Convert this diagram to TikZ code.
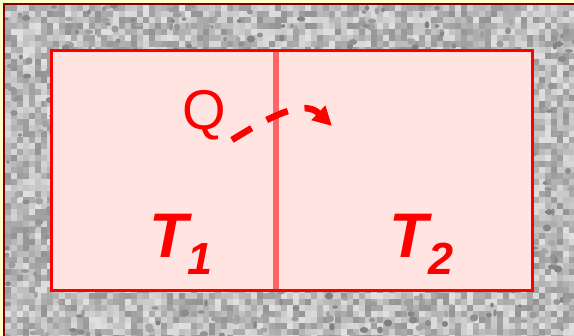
\documentclass[tikz,border=0pt]{standalone}
\usepackage{fontspec}
\setmainfont{Liberation Sans}
\usetikzlibrary{arrows.meta}
\definecolor{bgyellow}{HTML}{FFFFCC}
\definecolor{darkframe}{HTML}{800000}
\definecolor{roomfill}{HTML}{FFE4E1}
\definecolor{wallred}{HTML}{FF6464}
\definecolor{heatred}{HTML}{FF0000}
\tikzset{
  lbl/.style={text=heatred, inner sep=0pt},
  templbl/.style={lbl, anchor=base west, font=\fontsize{63}{63}\selectfont\bfseries\itshape},
  heatflow/.style={draw=heatred, line width=6.5pt, dash pattern=on 23pt off 17pt,
    -{Triangle[length=19pt,width=19pt]}},
}
\begin{document}
\begin{tikzpicture}[x=1pt,y=-1pt]
\useasboundingbox (0,0) rectangle (574,336);
\fill[bgyellow] (0,0) rectangle (574,336);
\begin{scope}
\clip (5,5) rectangle (574,336);
\pgfmathsetseed{4242}
\foreach \i in {0,...,94}{
  \foreach \j in {0,...,55}{
    \pgfmathrandominteger{\g}{12}{42}
    \fill[black!\g] (\i*6+5,\j*6+5) rectangle ++(6.3,6.3);
  }
}
\foreach \k in {1,...,520}{
  \pgfmathrandominteger{\x}{5}{574}
  \pgfmathrandominteger{\y}{5}{336}
  \pgfmathrandominteger{\g}{34}{50}
  \pgfmathrandominteger{\w}{3}{7}
  \pgfmathrandominteger{\h}{3}{6}
  \fill[black!\g] (\x,\y) ellipse[x radius=\w*0.6, y radius=\h*0.6];
}
\end{scope}
\draw[darkframe, line width=2pt] (4,336) -- (4,4) -- (574,4);
% room
\fill[roomfill] (51,51) rectangle (532,291);
\draw[wallred, line width=6pt] (276,51) -- (276,291);
\draw[heatred, line width=3pt] (51,51) rectangle (532,291);
% labels
\node[lbl, anchor=base, font=\fontsize{56}{56}\selectfont] (q) at (204,130) {Q};
\node[templbl] (t1) at (149,258) {T\kern0pt\raisebox{-17pt}{\fontsize{45}{45}\selectfont 1}};
\node[templbl] (t2) at (389,258) {T\kern1pt\raisebox{-17pt}{\fontsize{45}{45}\selectfont 2}};
% heat flow
\coordinate (qs) at (232,140);
\coordinate (qe) at (332,126);
\draw[heatflow] (qs) .. controls (275,113) and (305,100) .. (qe);
\end{tikzpicture}
\end{document}
